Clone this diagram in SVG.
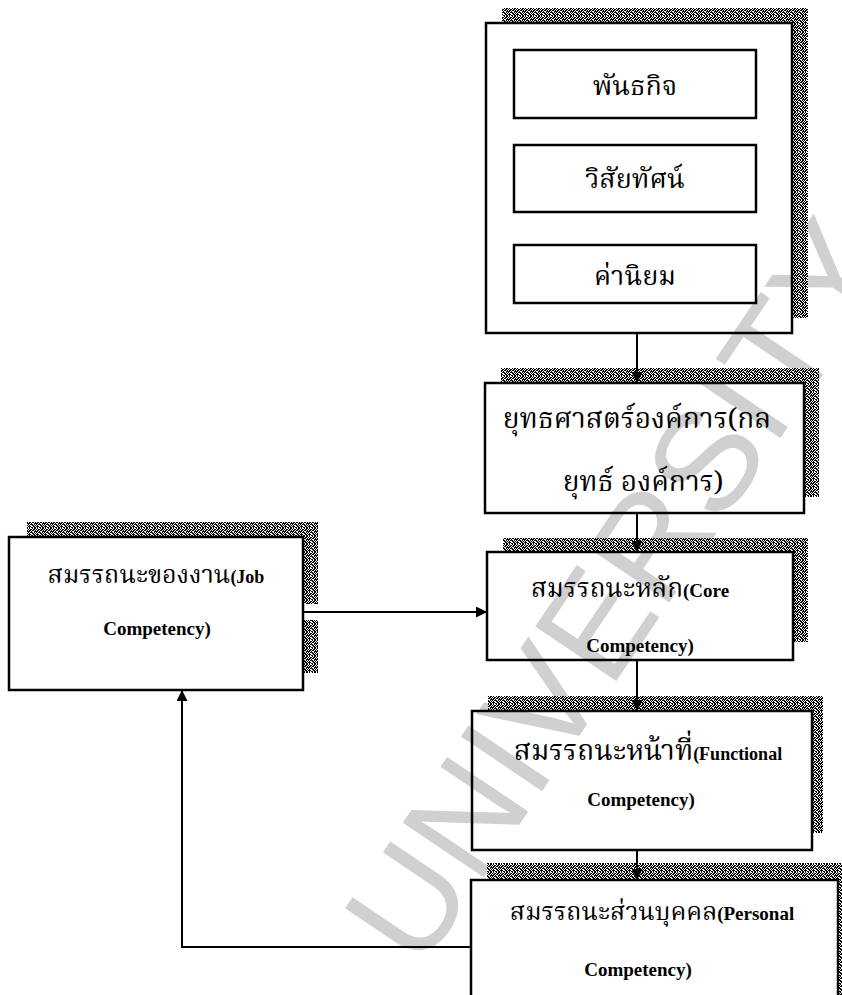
<svg xmlns="http://www.w3.org/2000/svg" width="842" height="995" viewBox="0 0 842 995">
  <style>
    .box { fill: none; stroke: #000; stroke-width: 2.5; }
    .shadow { fill: url(#stipple); stroke: none; }
    .wire { fill: none; stroke: #000; stroke-width: 2; }
    .th { font-family: "Noto Serif Thai", "Noto Sans Thai", "Loma", "Garuda", "Liberation Serif", serif; fill: #000; }
    .en { font-family: "Liberation Serif", "Times New Roman", serif; font-weight: bold; fill: #000; }
    .mark { font-family: "Liberation Sans", Arial, sans-serif; fill: #d0d0d0; }
  </style>
  <defs>
    <!-- dithered drop-shadow texture -->
    <pattern id="stipple" width="8" height="8" patternUnits="userSpaceOnUse">
      <rect width="8" height="8" fill="#fff"/>
      <path fill="#000" d="M0 0h1v1h-1z M2 0h2v1h-2z M5 0h1v1h-1z M1 1h2v1h-2z M4 1h1v1h-1z M6 1h2v1h-2z M0 2h2v1h-2z M3 2h1v1h-1z M5 2h2v1h-2z M2 3h4v1h-4z M7 3h1v1h-1z M0 4h1v1h-1z M2 4h1v1h-1z M4 4h1v1h-1z M6 4h2v1h-2z M0 5h2v1h-2z M3 5h1v1h-1z M5 5h1v1h-1z M1 6h2v1h-2z M4 6h3v1h-3z M0 7h1v1h-1z M2 7h2v1h-2z M5 7h1v1h-1z M7 7h1v1h-1z"/>
    </pattern>
    <marker id="arrow" viewBox="0 0 10 10" refX="10" refY="5" markerWidth="11" markerHeight="11" markerUnits="userSpaceOnUse" orient="auto">
      <path d="M0 0 L10 5 L0 10 Z" fill="#000"/>
    </marker>
  </defs>

  <rect width="842" height="995" fill="#fff"/>

  <!-- watermark -->
  <text class="mark" x="0" y="0" font-size="142" transform="translate(420 972) rotate(-56)">UNIVERSITY</text>

  <!-- organisation frame: mission, vision, values -->
  <g id="org-frame">
    <path class="shadow" d="M502 8 H808 V318 H792 V23 H502 Z"/>
    <rect class="box" x="486" y="23" width="306" height="310"/>
  </g>
  <g id="mission">
    <rect class="box" x="514" y="50" width="242" height="68"/>
    <text class="th" x="635" y="95" font-size="27" text-anchor="middle">พันธกิจ</text>
  </g>
  <g id="vision">
    <rect class="box" x="514" y="145" width="242" height="67"/>
    <text class="th" x="635" y="188" font-size="27" text-anchor="middle">วิสัยทัศน์</text>
  </g>
  <g id="values">
    <rect class="box" x="514" y="245" width="242" height="58"/>
    <text class="th" x="635" y="285" font-size="27" text-anchor="middle">ค่านิยม</text>
  </g>

  <g id="strategy">
    <path class="shadow" d="M501 368 H819 V497 H804 V383 H501 Z"/>
    <rect class="box" x="485" y="383" width="319" height="130"/>
    <text class="th" x="637" y="428" font-size="28" text-anchor="middle">ยุทธศาสตร์องค์การ(กล</text>
    <text class="th" x="643" y="491" font-size="28" text-anchor="middle">ยุทธ์ องค์การ)</text>
  </g>

  <g id="core">
    <path class="shadow" d="M503 538 H808 V642 H793 V552 H503 Z"/>
    <rect class="box" x="487" y="552" width="306" height="108"/>
    <text x="630" y="597" text-anchor="middle"><tspan class="th" font-size="26">สมรรถนะหลัก</tspan><tspan class="en" font-size="19">(Core</tspan></text>
    <text class="en" x="640" y="652" font-size="19" text-anchor="middle">Competency)</text>
  </g>

  <g id="functional">
    <path class="shadow" d="M488 696 H823 V833 H812 V711 H488 Z"/>
    <rect class="box" x="472" y="711" width="340" height="139"/>
    <text x="648" y="760" text-anchor="middle"><tspan class="th" font-size="28">สมรรถนะหน้าที่</tspan><tspan class="en" font-size="18">(Functional</tspan></text>
    <text class="en" x="641" y="806" font-size="19" text-anchor="middle">Competency)</text>
  </g>

  <g id="personal">
    <path class="shadow" d="M487 863 H842 V995 H838 V880 H487 Z"/>
    <rect class="box" x="471" y="880" width="367" height="125"/>
    <text x="652" y="920" text-anchor="middle"><tspan class="th" font-size="25">สมรรถนะส่วนบุคคล</tspan><tspan class="en" font-size="19">(Personal</tspan></text>
    <text class="en" x="638" y="976" font-size="19" text-anchor="middle">Competency)</text>
  </g>

  <g id="job">
    <path class="shadow" d="M27 522 H318 V604 H303 V537 H27 Z"/>
    <path class="shadow" d="M303 620 H318 V673 H303 Z"/>
    <rect class="box" x="9" y="537" width="294" height="153"/>
    <text x="156" y="583" text-anchor="middle"><tspan class="th" font-size="25">สมรรถนะของงาน</tspan><tspan class="en" font-size="18">(Job</tspan></text>
    <text class="en" x="157" y="635" font-size="19" text-anchor="middle">Competency)</text>
  </g>

  <!-- connectors -->
  <g id="connectors">
    <path class="wire" d="M637 333 V383" marker-end="url(#arrow)"/>
    <path class="wire" d="M637 513 V552" marker-end="url(#arrow)"/>
    <path class="wire" d="M637 660 V711" marker-end="url(#arrow)"/>
    <path class="wire" d="M637 850 V880" marker-end="url(#arrow)"/>
    <path class="wire" d="M303 612 H487" marker-end="url(#arrow)"/>
    <path class="wire" d="M471 947 H182 V690" marker-end="url(#arrow)"/>
  </g>
</svg>
